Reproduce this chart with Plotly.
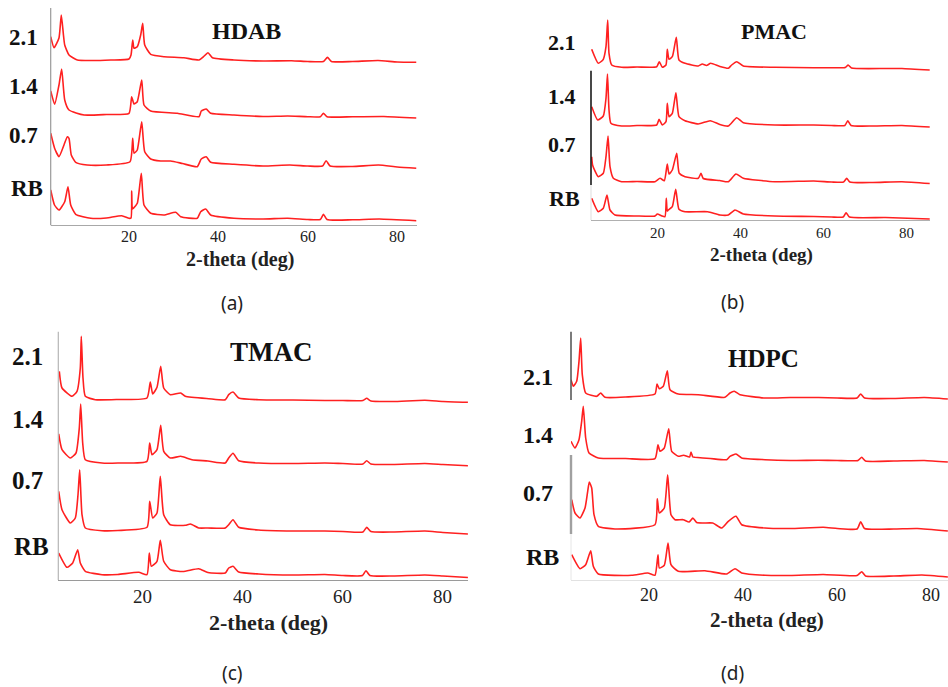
import plotly.graph_objects as go

W, H = 948, 687

# ---------------- data (2-theta in deg, intensity in a.u.) ----------------
HDAB_21_X = [2.55, 3.3, 4.4, 4.92, 5.4, 5.68, 6.64, 8.5, 12, 16, 20.05, 20.5, 20.88, 21.17, 21.9, 22.66, 23.11, 23.56, 24.9, 27.9, 32.3, 35.7, 36.7, 37.7, 38.7, 43.5, 50, 56.4, 60, 63.5, 64.4, 65.3, 70, 75.7, 80, 84.3]
HDAB_21_Y = [25.8, 14.8, 24.5, 47.5, 27.5, 17.5, 7.5, 2.5, 2, 2.5, 3.5, 7.5, 22.5, 14.2, 15.8, 27.5, 39.2, 17.5, 8.2, 5.8, 4.8, 2.5, 5.8, 9.8, 4.8, 2.5, 1.5, 1.8, 1, 1, 5.2, 1, 1, 2, 0.5, 0.2]
HDAB_14_X = [2.55, 3.44, 4.4, 5.0, 5.68, 6.64, 10, 15, 20.05, 20.65, 21.17, 21.9, 22.89, 23.4, 24.9, 30.85, 35.7, 36.2, 37.3, 38.3, 43.5, 50, 55.5, 60, 62.8, 63.5, 64.3, 70, 77, 84.3]
HDAB_14_Y = [27, 13.7, 33, 49, 18, 8, 3, 3.5, 4.7, 21.3, 14, 16.3, 38, 13, 7, 4.7, 1.3, 7, 9, 4.7, 3, 1.5, 2, 1.3, 1.3, 4.7, 1.3, 1.2, 1.5, 0]
HDAB_07_X = [2.55, 3.44, 4.4, 5.52, 6.26, 6.64, 7.15, 8.14, 10.7, 15, 20.27, 20.88, 21.17, 21.9, 22.89, 23.56, 24.9, 27.13, 29.37, 32, 35.3, 36.2, 37.3, 38.3, 43.5, 50, 56, 60, 63.3, 64.1, 65, 70, 75.8, 80, 84.3]
HDAB_07_Y = [35.2, 20, 11.8, 23.5, 31.8, 30.2, 13.5, 6.2, 3.5, 3.5, 6.8, 30.2, 15.2, 18.5, 46.8, 16.8, 9.5, 7.5, 7.5, 5, 1.8, 9.5, 11.8, 6.2, 4.2, 2.5, 3.5, 2.5, 2.5, 7.8, 2.5, 2, 3.5, 1.5, 0.2]
HDAB_RB_X = [2.55, 3.4, 4.4, 5.68, 6.41, 7.02, 8.14, 11.5, 15, 18.42, 20.05, 20.5, 20.65, 20.8, 21.01, 21.9, 22.8, 23.4, 24.9, 27.87, 30.49, 31.6, 35.3, 36.07, 37.19, 38.3, 43.5, 50, 55.5, 60, 62.8, 63.5, 64.3, 70, 76, 84.3]
HDAB_RB_Y = [31, 16, 11, 19.3, 34.3, 16, 6.7, 2.7, 3, 5.3, 2.7, 3, 30, 12, 12.7, 17.7, 47.7, 16, 7.7, 6, 8.7, 4.3, 2.7, 9.3, 12, 6, 2.7, 2, 2.7, 1.5, 1.5, 6.7, 1.5, 1.2, 2, 0.3]

PMAC_21_X = [4.06, 5.65, 6.86, 7.51, 7.92, 8.24, 8.89, 11.3, 15, 19.76, 20.39, 21.11, 22.0, 22.32, 22.73, 23.53, 24.49, 25.14, 26.6, 29.8, 30.77, 31.8, 32.8, 35, 37.05, 37.87, 39.08, 40.68, 48.3, 57.7, 62, 65.3, 66.0, 66.8, 75, 79, 85.7]
PMAC_21_Y = [20.7, 6.7, 10.7, 23.3, 50, 16.7, 5, 2.7, 3, 3.3, 8.3, 2.7, 5, 20.7, 10.7, 13.3, 32.7, 10, 6.7, 4, 6, 4.5, 6.7, 3.5, 1.7, 5, 8.3, 4, 2.7, 2.3, 2.3, 2.5, 5, 2, 1.5, 1.5, 0]
PMAC_14_X = [4.06, 5.5, 6.86, 7.51, 7.87, 8.24, 8.7, 11.3, 15, 19.76, 20.33, 21.11, 22.0, 22.32, 22.73, 23.53, 24.4, 25.14, 26.6, 29.8, 32.7, 35, 37.05, 39.08, 40.68, 48.3, 57.7, 62, 65.2, 65.9, 66.7, 72, 79, 85.7]
PMAC_14_Y = [20.3, 7, 11, 28.7, 53, 17, 3.7, 1, 1.5, 2, 7.7, 2, 5.3, 23.7, 10.3, 13.7, 34.3, 10.3, 6.3, 3, 6.3, 2.5, 1, 9.3, 4.3, 2, 2, 1.5, 1.5, 6.3, 1.5, 1, 1.5, 0]
PMAC_07_X = [4.06, 4.3, 5.65, 6.86, 7.51, 8.0, 8.48, 9.28, 11.3, 15, 19.35, 20.56, 21.6, 22.32, 22.73, 23.53, 24.59, 25.2, 26.6, 29.8, 30.46, 31.0, 35, 37.05, 38.9, 40.68, 48.3, 57.7, 62, 64.9, 65.65, 66.4, 72, 79, 85.7]
PMAC_07_Y = [26.8, 18, 6.8, 10.2, 26.8, 47.5, 16.8, 5.2, 1.8, 2, 1.8, 5.2, 2.8, 19.5, 9.5, 13.5, 30.2, 10.2, 6.8, 5.2, 10.2, 5, 3, 1.8, 9.5, 5.2, 1.8, 2.5, 1.5, 1.5, 5.2, 1.5, 1, 1.8, 0]
PMAC_RB_X = [4.06, 5.65, 6.86, 7.75, 8.48, 9.69, 15, 19.35, 19.9, 21.0, 21.76, 22.08, 22.3, 22.56, 23.53, 24.35, 25.14, 26.6, 32.08, 35, 37.05, 38.67, 40.68, 48.3, 57.7, 62, 64.8, 65.5, 66.3, 75, 85.7]
PMAC_RB_Y = [20.7, 7.3, 10.7, 24, 9, 4, 3, 3, 5, 3, 2.3, 20.7, 8, 9, 12.3, 29.7, 9.7, 7.3, 7.3, 4, 4, 9, 5, 3, 2.5, 2, 2, 6.3, 2, 1.5, 0]

TMAC_21_X = [3.28, 3.82, 5.82, 6.82, 7.48, 7.68, 8.02, 8.48, 10.48, 15, 20.82, 21.48, 21.96, 22.82, 23.56, 24.16, 25.48, 27.56, 28.48, 33.16, 36.48, 37.16, 38.02, 39.16, 43.16, 50, 56.4, 60, 64.0, 64.76, 65.6, 70, 76.4, 80, 85.0]
TMAC_21_Y = [31.2, 14.5, 6.2, 11.2, 34.5, 66.2, 24.5, 6.2, 2.8, 3, 4.5, 20.5, 8.5, 15.2, 36.2, 14.5, 7.8, 9.5, 6.2, 3.8, 2.8, 7.8, 10.5, 4.5, 2.8, 2.5, 2, 2, 2, 4.2, 1.5, 1, 2.2, 1, 0.2]
TMAC_14_X = [3.16, 3.82, 5.48, 6.62, 7.28, 7.56, 7.96, 8.48, 11.82, 15, 20.82, 21.36, 21.82, 22.82, 23.56, 24.16, 25.48, 27.56, 29.82, 33, 36.48, 37.16, 38.02, 39.16, 43.16, 50, 56.4, 60, 64.0, 64.76, 65.6, 70, 76.4, 80, 85.0]
TMAC_14_Y = [32, 16.3, 8, 13, 38, 62, 23, 6.3, 3, 3, 4.7, 23, 11.3, 16.3, 40.7, 14.7, 8, 9.7, 6.3, 5, 3, 8, 12.7, 5.3, 3, 2.5, 3, 2.5, 2, 5.3, 2, 1.5, 2.5, 1.5, 0.3]
TMAC_07_X = [3.16, 3.82, 5.48, 6.48, 7.02, 7.36, 7.82, 8.48, 11.82, 15, 20.82, 21.36, 21.96, 22.82, 23.48, 24.16, 25.48, 28.48, 29.5, 31.16, 33, 36.48, 37.16, 38.02, 39.16, 43.16, 50, 56.4, 60, 64.0, 64.76, 65.6, 70, 76.4, 80, 85.0]
TMAC_07_Y = [42.7, 24.3, 11, 16, 39.3, 64.3, 19.3, 6, 3.3, 3.5, 6.7, 32.7, 16, 21, 57.7, 19.3, 9.3, 8.7, 10, 6, 6, 6, 9.3, 14.3, 6.7, 4, 3, 3, 2.5, 2, 6.7, 2.5, 2, 3, 1.5, 0]
TMAC_RB_X = [3.16, 4.82, 5.96, 6.96, 7.48, 8.48, 11.82, 15, 19.16, 20.82, 21.28, 21.68, 22.82, 23.48, 24.16, 25.48, 28, 31.16, 33, 36.48, 37.16, 38.02, 39.16, 43.16, 50, 56.4, 60, 63.9, 64.6, 65.4, 70, 76.4, 80, 85.0]
TMAC_RB_Y = [24.5, 10.2, 14.5, 27.8, 14.5, 6.2, 2.8, 3, 5.2, 2.8, 24.5, 11.2, 16.2, 37.2, 16.2, 7.8, 6, 8.8, 5, 4.5, 9.5, 11.2, 5.5, 3.5, 2.5, 3, 2, 2, 6.8, 2, 1.5, 2.5, 1.5, 0]

HDPC_21_X = [3.4, 3.89, 4.61, 5.1, 5.46, 5.8, 6.52, 8.86, 9.71, 10.63, 15, 21.25, 21.68, 22.17, 23.02, 23.87, 24.44, 26.2, 30.45, 36.12, 37.19, 38.1, 39.32, 44.63, 50, 56, 60, 64.2, 64.97, 65.8, 72, 78.5, 83.5]
HDPC_21_Y = [19.3, 12.7, 17.7, 37.7, 61, 24.3, 6, 2.7, 6, 1.7, 2, 5, 15, 10.3, 12.7, 28.3, 9.3, 5, 4.3, 1.7, 6, 7.7, 4.3, 1, 1.5, 1.5, 1, 1, 5, 1, 0.5, 1.5, 0]
HDPC_14_X = [3.4, 4.25, 5.1, 5.67, 6.01, 6.52, 7.23, 9.2, 15, 21.25, 21.89, 22.32, 23.23, 24.17, 24.8, 26.2, 27.35, 28.6, 28.91, 29.3, 29.76, 33, 36.49, 37.19, 38.47, 39.68, 44.63, 50, 56, 60, 64.4, 65.19, 66, 72, 78.5, 83.5]
HDPC_14_Y = [20.7, 14, 22.3, 40.7, 55.7, 24, 9, 4, 3.5, 3.3, 17.3, 10.7, 14, 33.3, 10.7, 5.7, 6.7, 5, 10, 5, 4.7, 3.5, 2.3, 5.7, 8, 4, 2.3, 1.5, 1.8, 1.5, 1.5, 4.7, 1, 1, 1.5, 0]
HDPC_07_X = [3.55, 4.25, 5.31, 6.38, 6.95, 7.29, 7.8, 8.29, 9.2, 12.75, 21.25, 21.74, 22.17, 23.23, 23.95, 24.65, 25.5, 27.27, 28.5, 29.3, 30.12, 31.5, 33.52, 35.43, 36.83, 38.47, 39.68, 44.63, 50, 57.02, 60, 64.2, 64.97, 65.8, 72, 77, 83.5]
HDPC_07_Y = [31.3, 18, 13, 23, 39.7, 49, 43, 16.3, 4.7, 2, 6.3, 32.3, 18, 23, 56.3, 16.3, 11.3, 11.3, 9, 13, 8.5, 8, 8, 3, 9.7, 14.7, 6.3, 3, 2.5, 3.7, 2.5, 2, 9.3, 2.5, 2, 2.5, 0]
HDPC_RB_X = [3.55, 5.31, 6.52, 7.59, 8.14, 9.2, 16.3, 19.7, 21.25, 21.89, 22.17, 23.23, 24.02, 24.65, 26.2, 31.88, 36.49, 38.26, 39.68, 44.63, 50, 57, 64.2, 65.19, 66, 72, 78, 83.5]
HDPC_RB_Y = [22.3, 8.3, 12.3, 26.3, 10.7, 3, 1.7, 4, 1.7, 22.3, 9, 11.7, 34, 12.3, 5.7, 6.3, 3, 8.3, 4, 1.7, 1.5, 2.5, 1.5, 5.3, 1, 1, 2, 0]

SAMPLE_LABELS = ["2.1", "1.4", "0.7", "RB"]
TICK_VALUES = [20, 40, 60, 80]
X_TITLE = "2-theta (deg)"

# ---------------- layout helpers ----------------
def px_x(p):
    return p / W

def px_y(p):
    return 1 - p / H

SERIF = "Liberation Serif, Times New Roman, serif"
RED = "#ff2020"

panels = [
    dict(title="HDAB", cap="(a)",
         series=[(HDAB_21_X, HDAB_21_Y), (HDAB_14_X, HDAB_14_Y), (HDAB_07_X, HDAB_07_Y), (HDAB_RB_X, HDAB_RB_Y)],
         box=(50.7, 416.5, 8, 225.3), xr=(2.55, 84.3), base=[62.5, 118, 168.5, 221],
         lab_x=[23, 23, 23, 27], lab_y=[38, 87, 136, 188], lab_fs=23,
         title_xy=(247, 31), title_fs=24, xt_xy=(240, 259), xt_fs=20, tick_y=236, tick_fs=16,
         cap_xy=(232, 303), left=[(8, 225.3, "#9a9a9a", 1.2)], bottom="#a8a8a8"),
    dict(title="PMAC", cap="(b)",
         series=[(PMAC_21_X, PMAC_21_Y), (PMAC_14_X, PMAC_14_Y), (PMAC_07_X, PMAC_07_Y), (PMAC_RB_X, PMAC_RB_Y)],
         box=(591, 930, 8, 220), xr=(3.89, 85.77), base=[70, 127, 183.5, 219],
         lab_x=[561.7, 561.7, 561.7, 564], lab_y=[43, 96, 144, 198], lab_fs=22,
         title_xy=(774, 32), title_fs=22, xt_xy=(761.7, 255), xt_fs=19, tick_y=233, tick_fs=15,
         cap_xy=(732, 302), left=[(70.7, 185, "#1a1a1a", 1.6), (185, 220, "#dddddd", 1)], bottom="#b0b0b0"),
    dict(title="TMAC", cap="(c)",
         series=[(TMAC_21_X, TMAC_21_Y), (TMAC_14_X, TMAC_14_Y), (TMAC_07_X, TMAC_07_Y), (TMAC_RB_X, TMAC_RB_Y)],
         box=(58.3, 468.3, 331.7, 580), xr=(3.08, 85.08), base=[402.5, 466, 534, 577.5],
         lab_x=[27.7, 27.7, 27.7, 31.7], lab_y=[356.7, 419.3, 480.7, 546.7], lab_fs=25,
         title_xy=(271.7, 351.7), title_fs=27, xt_xy=(268.3, 622), xt_fs=22, tick_y=596, tick_fs=19,
         cap_xy=(232.3, 673), left=[(331.7, 580, "#b5b5b5", 1.2)], bottom="#9a9a9a"),
    dict(title="HDPC", cap="(d)",
         series=[(HDPC_21_X, HDPC_21_Y), (HDPC_14_X, HDPC_14_Y), (HDPC_07_X, HDPC_07_Y), (HDPC_RB_X, HDPC_RB_Y)],
         box=(571, 948, 331.7, 580), xr=(3.4, 83.53), base=[399, 462, 531, 577],
         lab_x=[538.3, 538.3, 538.3, 542.7], lab_y=[376.7, 435, 492.7, 556.7], lab_fs=24,
         title_xy=(763.3, 358.3), title_fs=25, xt_xy=(766.7, 620), xt_fs=21, tick_y=595, tick_fs=18,
         cap_xy=(732.3, 673), left=[(331.7, 400, "#5a5a5a", 1.6), (455, 534, "#a0a0a0", 2.4), (534, 580, "#e6e6e6", 1)],
         bottom="#e2e2e2"),
]

fig = go.Figure()
layout = dict(width=W, height=H, margin=dict(l=0, r=0, t=0, b=0),
              paper_bgcolor="white", plot_bgcolor="rgba(0,0,0,0)", showlegend=False)
annotations = []
shapes = []

for i, p in enumerate(panels, start=1):
    xl, xr_px, yt, yb = p["box"]
    ax = "" if i == 1 else str(i)
    height_units = yb - yt
    for (xs, ys), b, name in zip(p["series"], p["base"], SAMPLE_LABELS):
        off = yb - b
        fig.add_trace(go.Scatter(x=xs, y=[off + v for v in ys], mode="lines",
                                 line=dict(color=RED, width=1.6, shape="spline", smoothing=0.5),
                                 name=f"{p['title']} {name}",
                                 xaxis="x" + ax, yaxis="y" + ax, hoverinfo="x+name"))
    layout["xaxis" + ax] = dict(domain=[px_x(xl), px_x(xr_px)], range=list(p["xr"]), anchor="y" + ax,
                                showticklabels=False, ticks="", showgrid=False, zeroline=False,
                                showline=True, linecolor=p["bottom"], linewidth=1)
    layout["yaxis" + ax] = dict(domain=[px_y(yb), px_y(yt)], range=[0, height_units], anchor="x" + ax,
                                showticklabels=False, ticks="", showgrid=False, zeroline=False,
                                showline=False)
    # tick labels placed on the data x scale
    for tv in TICK_VALUES:
        annotations.append(dict(text=str(tv), x=tv, xref="x" + ax, y=px_y(p["tick_y"]), yref="paper",
                                showarrow=False, xanchor="center", yanchor="middle",
                                font=dict(family=SERIF, size=p["tick_fs"], color="#222")))
    for y0, y1, col, wd in p["left"]:
        shapes.append(dict(type="line", xref="paper", yref="paper",
                           x0=px_x(xl), x1=px_x(xl), y0=px_y(y0), y1=px_y(y1),
                           line=dict(color=col, width=wd)))
    for lab, lx, ly in zip(SAMPLE_LABELS, p["lab_x"], p["lab_y"]):
        annotations.append(dict(text=f"<b>{lab}</b>", x=px_x(lx), y=px_y(ly), xref="paper", yref="paper",
                                showarrow=False, xanchor="center", yanchor="middle",
                                font=dict(family=SERIF, size=p["lab_fs"], color="#111")))
    annotations.append(dict(text=f"<b>{p['title']}</b>", x=px_x(p["title_xy"][0]), y=px_y(p["title_xy"][1]),
                            xref="paper", yref="paper", showarrow=False, xanchor="center", yanchor="middle",
                            font=dict(family=SERIF, size=p["title_fs"], color="#111")))
    annotations.append(dict(text=f"<b>{X_TITLE}</b>", x=px_x(p["xt_xy"][0]), y=px_y(p["xt_xy"][1]),
                            xref="paper", yref="paper", showarrow=False, xanchor="center", yanchor="middle",
                            font=dict(family=SERIF, size=p["xt_fs"], color="#222")))
    annotations.append(dict(text=p["cap"], x=px_x(p["cap_xy"][0]), y=px_y(p["cap_xy"][1]),
                            xref="paper", yref="paper", showarrow=False, xanchor="center", yanchor="middle",
                            font=dict(family="Noto Sans, Open Sans, sans-serif", size=19, color="#222")))

layout["annotations"] = annotations
layout["shapes"] = shapes
fig.update_layout(**layout)
fig.write_html("out.html", config={"displayModeBar": False},
               post_script="document.body.style.margin='0';document.body.style.overflow='hidden';")
